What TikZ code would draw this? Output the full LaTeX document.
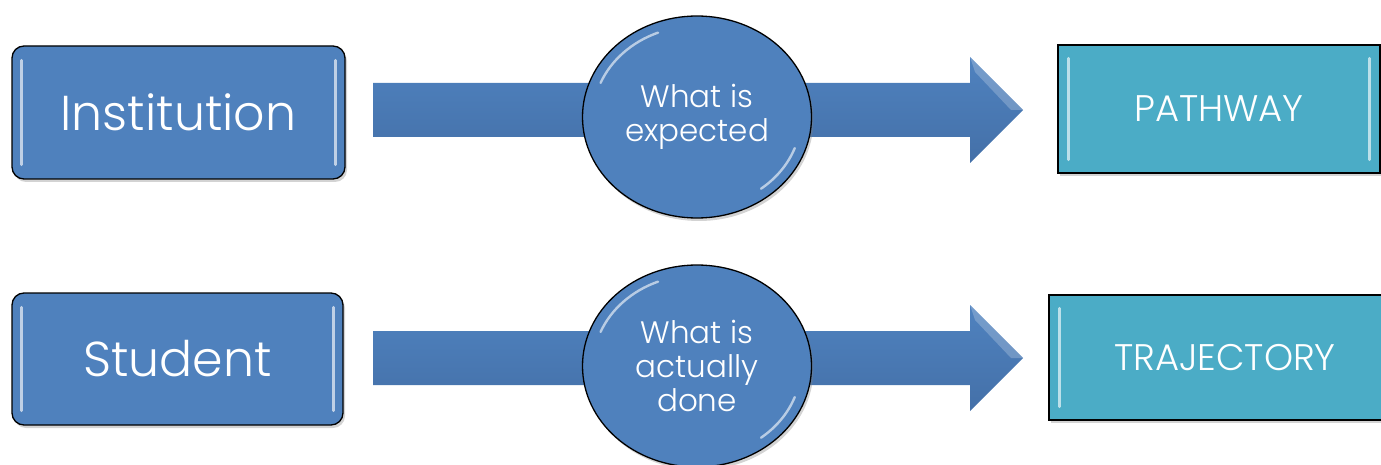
\documentclass[tikz,border=0pt]{standalone}
\usepackage{fontspec}
\setmainfont{Poppins}[UprightFont={* Light}]
\usetikzlibrary{shapes.geometric,shadows}
\definecolor{boxblue}{HTML}{4F81BD}
\definecolor{arrowtop}{HTML}{4F82BF}
\definecolor{arrowbot}{HTML}{4470A8}
\definecolor{tealfill}{HTML}{4BACC6}
\tikzset{
  shade3d/.style={drop shadow={opacity=0.35,shadow xshift=2pt,shadow yshift=-3pt}},
  bluebox/.style={rounded corners=12pt, fill=boxblue, draw=black, line width=1.3pt,
    text=white, inner sep=0pt, shade3d,
    font=\fontsize{49}{55}\selectfont},
  tealbox/.style={fill=tealfill, draw=black, line width=1.3pt, text=white,
    inner sep=0pt, shade3d, font=\fontsize{37}{42}\selectfont},
  bubble/.style={ellipse, fill=boxblue, draw=black, line width=1.3pt, text=white,
    align=center, inner sep=0pt, shade3d, font=\fontsize{31}{34}\selectfont},
  blockarrow/.style={top color=arrowtop, bottom color=arrowbot, draw=none},
  glint/.style={line width=3pt, line cap=round, draw=white!75!boxblue, opacity=0.85},
  glintteal/.style={line width=3pt, line cap=round, draw=white!70!tealfill, opacity=0.9},
  ringglint/.style={line width=2.4pt, line cap=round, draw=white, opacity=0.6},
  headglint/.style={fill=white, opacity=0.22, draw=none},
}
\begin{document}
\begin{tikzpicture}[x=1pt,y=-1pt]
\useasboundingbox (0,0) rectangle (1381,465);

% ---------- top row ----------
\coordinate (a1s1) at (373,83);
\coordinate (a1s2) at (970,83);
\coordinate (a1h1) at (970,57);
\coordinate (a1tip) at (1023,110);
\coordinate (a1h2) at (970,163);
\coordinate (a1s3) at (970,137);
\coordinate (a1s4) at (373,137);
\path[blockarrow] (a1s1) -- (a1s2) -- (a1h1) -- (a1tip) -- (a1h2) -- (a1s3) -- (a1s4) -- cycle;
\path[headglint] (a1h1) -- (a1tip) -- (1011,110) -- (975,72) -- cycle;

\node[bubble, minimum width=229pt, minimum height=202pt] (c1) at (697,117)
  {What is\\expected};
\draw[ringglint] (c1.center) ++(158:104pt and 91pt) arc[start angle=158, end angle=112, x radius=104pt, y radius=91pt];
\draw[ringglint] (c1.center) ++(-20:104pt and 91pt) arc[start angle=-20, end angle=-52, x radius=104pt, y radius=91pt];

\node[bluebox, minimum width=333pt, minimum height=133pt] (inst) at (178.5,112.5)
  {Institution};
\draw[glint] ([xshift=10pt,yshift=-15pt]inst.north west) -- ([xshift=10pt,yshift=15pt]inst.south west);
\draw[glint] ([xshift=-10pt,yshift=-15pt]inst.north east) -- ([xshift=-10pt,yshift=15pt]inst.south east);

\node[tealbox, minimum width=322pt, minimum height=128pt] (path) at (1219,109)
  {PATHWAY};
\draw[glintteal] ([xshift=11pt,yshift=-14pt]path.north west) -- ([xshift=11pt,yshift=14pt]path.south west);
\draw[glintteal] ([xshift=-11pt,yshift=-14pt]path.north east) -- ([xshift=-11pt,yshift=14pt]path.south east);

% ---------- bottom row ----------
\coordinate (a2s1) at (373,331);
\coordinate (a2s2) at (970,331);
\coordinate (a2h1) at (970,305);
\coordinate (a2tip) at (1023,358);
\coordinate (a2h2) at (970,411);
\coordinate (a2s3) at (970,385);
\coordinate (a2s4) at (373,385);
\path[blockarrow] (a2s1) -- (a2s2) -- (a2h1) -- (a2tip) -- (a2h2) -- (a2s3) -- (a2s4) -- cycle;
\path[headglint] (a2h1) -- (a2tip) -- (1011,358) -- (975,320) -- cycle;

\node[bubble, minimum width=229pt, minimum height=202pt] (c2) at (697,366)
  {What is\\actually\\done};
\draw[ringglint] (c2.center) ++(158:104pt and 91pt) arc[start angle=158, end angle=112, x radius=104pt, y radius=91pt];
\draw[ringglint] (c2.center) ++(-20:104pt and 91pt) arc[start angle=-20, end angle=-52, x radius=104pt, y radius=91pt];

\node[bluebox, minimum width=331pt, minimum height=132pt] (stud) at (177.5,359)
  {Student};
\draw[glint] ([xshift=10pt,yshift=-15pt]stud.north west) -- ([xshift=10pt,yshift=15pt]stud.south west);
\draw[glint] ([xshift=-10pt,yshift=-15pt]stud.north east) -- ([xshift=-10pt,yshift=15pt]stud.south east);

\node[tealbox, minimum width=352pt, minimum height=125pt] (traj) at (1225,357.5)
  {TRAJECTORY};
\draw[glintteal] ([xshift=11pt,yshift=-14pt]traj.north west) -- ([xshift=11pt,yshift=14pt]traj.south west);
\end{tikzpicture}
\end{document}
